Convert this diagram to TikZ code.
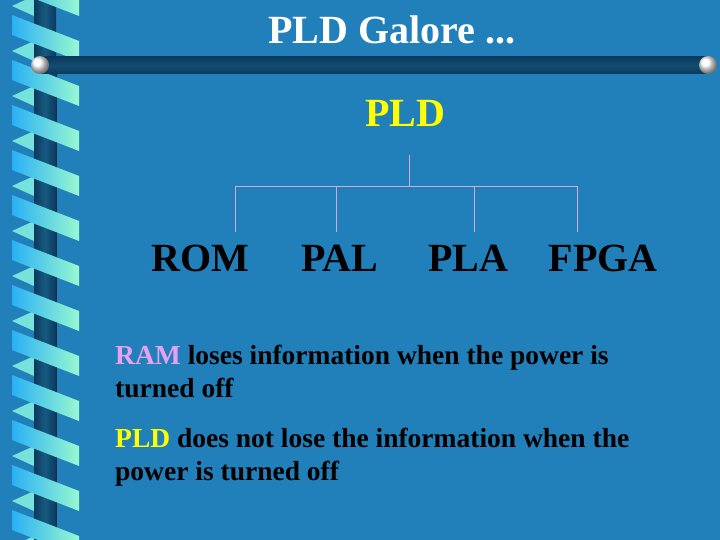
\documentclass[tikz,border=0pt]{standalone}
\usepackage{fontspec}
\setmainfont{Liberation Serif}
\definecolor{bg}{HTML}{2180B9}
\definecolor{branch}{HTML}{D8A8D8}
\definecolor{pldyellow}{HTML}{FFFF00}
\definecolor{ramcol}{HTML}{E8A0F0}
\definecolor{ribL}{HTML}{2AB0F5}
\definecolor{ribR}{HTML}{98F8D0}
\definecolor{bardark}{HTML}{0B3A5E}
\tikzstyle{big}=[font=\fontsize{40}{44}\selectfont\bfseries,inner sep=0pt]
\tikzstyle{leaf}=[big,text=black]
\tikzstyle{body}=[font=\fontsize{27.5}{33}\selectfont\bfseries,anchor=north west,align=left,inner sep=0pt]
\tikzstyle{ribbon}=[left color=ribL,right color=ribR]
\tikzstyle{branchline}=[draw=branch,semithick]

\begin{document}
\begin{tikzpicture}[x=1pt,y=-1pt]
  \useasboundingbox (0,0) rectangle (720,540);
  \fill[bg] (0,0) rectangle (720,540);
  % side ornament
  \foreach \y in {-30,15,...,540} {
    \fill[ribR!70!ribL] (12,\y+36) -- (34,\y+26) -- (34,\y+46) -- cycle;
  }
  \shade[left color=bardark,right color=bardark,middle color=bg!70!black] (34,0) rectangle (56,540);
  \draw[bardark!80!black] (56,66) -- (56,540);
  \foreach \y in {-30,15,...,540} {
    \shade[ribbon] (12,\y) -- (79,\y+26) -- (79,\y+46) -- (12,\y+20) -- cycle;
  }
  \shade[top color=bardark,bottom color=bardark,middle color=bg!60!black] (40,57) rectangle (708,74);
  \shade[ball color=white] (40,65) circle (9);
  \shade[ball color=white] (708,65) circle (9);

  \node[big,text=white] (title) at (392,30) {PLD Galore ...};
  \node[big,text=pldyellow] (pld) at (405,113) {PLD};
  \node[leaf] (rom)  at (200,258) {ROM};
  \node[leaf] (pal)  at (340,258) {PAL};
  \node[leaf] (pla)  at (468,258) {PLA};
  \node[leaf] (fpga) at (603,258) {FPGA};
  \coordinate (top) at (409,155);
  \coordinate (mid) at (409,186);
  \coordinate (hl) at (235,186);
  \coordinate (hr) at (577,186);
  \draw[branchline] (top) -- (mid);
  \draw[branchline] (hl) -- (hr);
  \foreach \x in {235,336,474,577}
    \draw[branchline] (\x,186) -- (\x,232);

  \node[body] (ram) at (115,345) {\textcolor{ramcol}{RAM} loses information when the power is\\turned off};
  \node[body] (pldtxt) at (115,428) {\textcolor{pldyellow}{PLD} does not lose the information when the\\power is turned off};
\end{tikzpicture}
\end{document}
